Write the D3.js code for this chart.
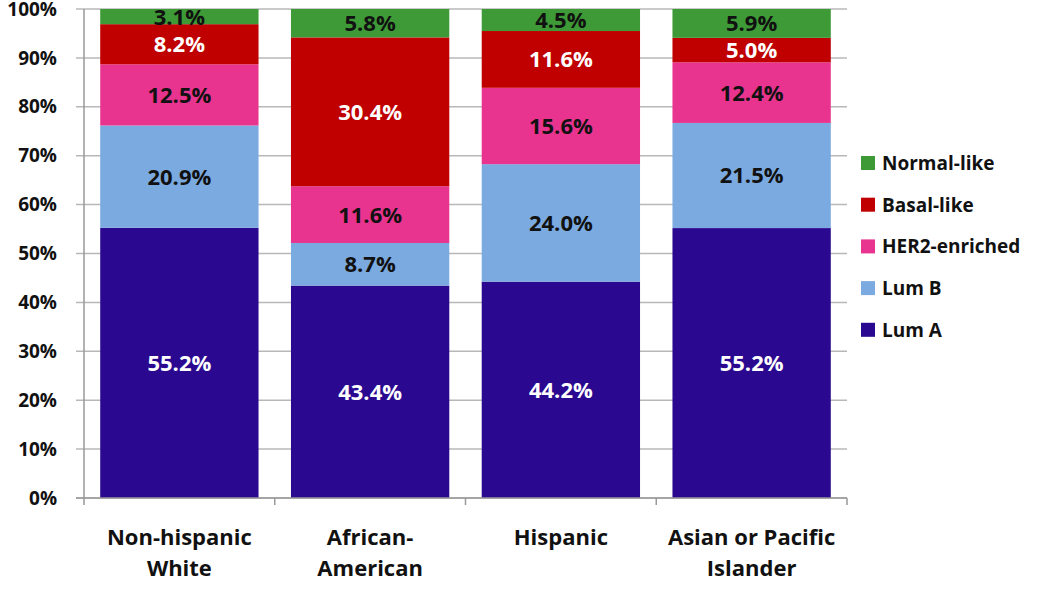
<!DOCTYPE html>
<html><head><meta charset="utf-8">
<script src="https://cdn.jsdelivr.net/npm/d3@7"></script>
<style>body{margin:0;background:#fff}svg{display:block}text{font-family:"Open Sans","Liberation Sans",sans-serif;font-weight:700}</style>
</head><body><svg id="c" width="1050" height="589"></svg>
<script>
const categories = [["Non-hispanic","White"],["African-","American"],["Hispanic"],["Asian or Pacific","Islander"]];
const seriesNames = ["Lum A","Lum B","HER2-enriched","Basal-like","Normal-like"];
const lumA = [55.2, 43.4, 44.2, 55.2];
const lumB = [20.9, 8.7, 24.0, 21.5];
const her2 = [12.5, 11.6, 15.6, 12.4];
const basal = [8.2, 30.4, 11.6, 5.0];
const normal = [3.1, 5.8, 4.5, 5.9];
const colors = ["#2a0890","#7aaae0","#e8348f","#c00000","#3e9a36"];
const yTicks = [0,10,20,30,40,50,60,70,80,90,100];

const svg = d3.select("#c");
const m = {l:84, r:203, t:9, b:91};
const W = 1050 - m.l - m.r, H = 589 - m.t - m.b;
const g = svg.append("g").attr("transform",`translate(${m.l},${m.t})`);

const series = [lumA, lumB, her2, basal, normal];
const rows = categories.map((c,i)=>{
  const o = {key:i};
  const tot = d3.sum(series, s=>s[i]);
  seriesNames.forEach((n,j)=>{ o[n] = series[j][i]/tot*100; });
  return o;
});
const stack = d3.stack().keys(seriesNames)(rows);

const x = d3.scaleBand().domain(d3.range(categories.length)).range([0,W]).paddingInner(0.17).paddingOuter(0.085);
const y = d3.scaleLinear().domain([0,100]).range([H,0]);

// gridlines
g.append("g").selectAll("line").data(yTicks).join("line")
  .attr("x1",-8).attr("x2",W).attr("y1",d=>y(d)).attr("y2",d=>y(d))
  .attr("stroke","#b8b8b8").attr("stroke-width",1.5);

// y labels
g.append("g").selectAll("text").data(yTicks).join("text")
  .attr("x",-27).attr("y",d=>y(d)).attr("dy","0.35em").attr("text-anchor","end")
  .attr("font-size",19).attr("fill","#111").text(d=>d+"%");

// bars
stack.forEach((s,j)=>{
  g.append("g").selectAll("rect").data(s).join("rect")
    .attr("x",(d,i)=>x(i)).attr("width",x.bandwidth())
    .attr("y",d=>y(d[1])).attr("height",d=>y(d[0])-y(d[1]))
    .attr("fill",colors[j]);
});
stack.forEach((s,j)=>{
  g.append("g").selectAll("text").data(s).join("text")
    .attr("x",(d,i)=>x(i)+x.bandwidth()/2).attr("y",d=>y((d[0]+d[1])/2)).attr("dy","0.36em")
    .attr("text-anchor","middle").attr("font-size",22)
    .attr("fill",(j===0||j===3)?"#fff":"#111")
    .text((d,i)=>series[j][i].toFixed(1)+"%");
});

// axes lines
g.append("line").attr("x1",0).attr("x2",0).attr("y1",0).attr("y2",H).attr("stroke","#999").attr("stroke-width",1.5);
g.append("line").attr("x1",-8).attr("x2",W).attr("y1",H).attr("y2",H).attr("stroke","#999").attr("stroke-width",1.5);
const step = W/categories.length;
g.append("g").selectAll("line").data(d3.range(categories.length+1)).join("line")
  .attr("x1",d=>d*step).attr("x2",d=>d*step).attr("y1",H).attr("y2",H+7).attr("stroke","#999").attr("stroke-width",1.5);

// category labels
const cl = g.append("g").selectAll("text").data(categories).join("text")
  .attr("text-anchor","middle").attr("font-size",22).attr("fill","#111")
  .attr("transform",(d,i)=>`translate(${x(i)+x.bandwidth()/2},${H+47})`);
cl.selectAll("tspan").data(d=>d).join("tspan").attr("x",0).attr("dy",(d,i)=>i===0?0:31).text(d=>d);

// legend
const legOrder = [4,3,2,1,0];
const lg = svg.append("g").attr("transform","translate(861,163)");
legOrder.forEach((j,k)=>{
  const r = lg.append("g").attr("transform",`translate(0,${k*41.7})`);
  r.append("rect").attr("x",0).attr("y",-7).attr("width",14).attr("height",14).attr("fill",colors[j]);
  r.append("text").attr("x",21).attr("y",0).attr("dy","0.36em").attr("font-size",19).attr("fill","#111").text(seriesNames[j]);
});
</script></body></html>
